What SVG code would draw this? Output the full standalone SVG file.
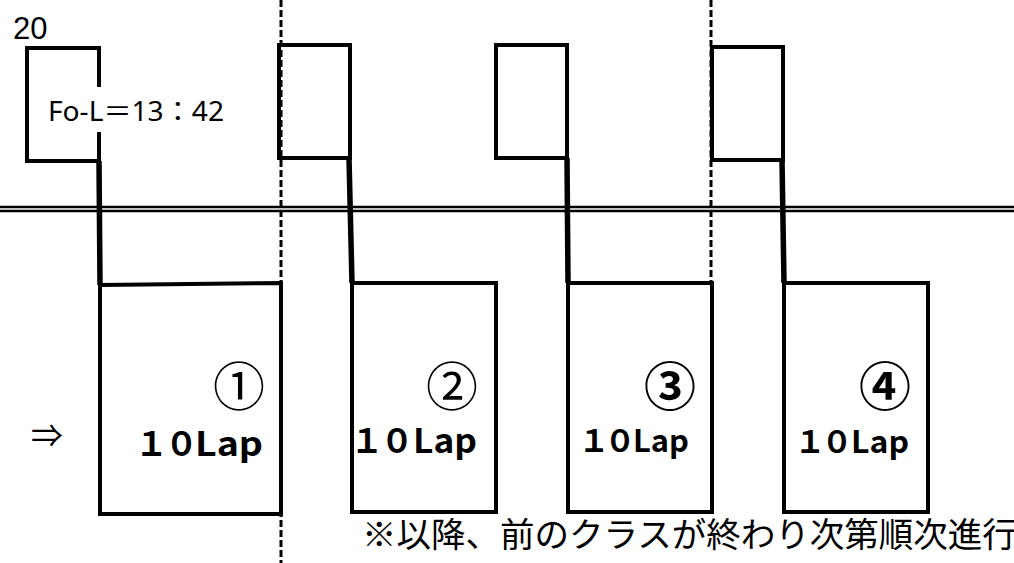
<svg xmlns="http://www.w3.org/2000/svg" width="1014" height="563" viewBox="0 0 1014 563">
<style>
.box{fill:none;stroke:#000;stroke-width:4;stroke-linejoin:miter}
.conn{stroke:#000;stroke-width:5.5;fill:none}
.dash{stroke:#000;stroke-width:3;stroke-dasharray:7 3;fill:none}
.rail{stroke:#000;stroke-width:2.6}
.circ{font-family:"Noto Sans CJK JP",sans-serif;font-size:52px;text-anchor:middle}
.lap{font-family:"Noto Sans CJK JP",sans-serif;font-weight:bold}
</style>
<rect width="1014" height="563" fill="#fff"/>
<g id="dividers">
<line class="rail" x1="0" y1="207" x2="1014" y2="207"/>
<line class="rail" x1="0" y1="211" x2="1014" y2="211"/>
<line class="dash" x1="281" y1="0" x2="281" y2="563"/>
<line class="dash" x1="711" y1="0" x2="711" y2="283"/>
</g>
<g id="connectors">
<line class="conn" x1="99" y1="161" x2="100" y2="285"/>
<line class="conn" x1="349" y1="158" x2="352" y2="283"/>
<line class="conn" x1="567" y1="158" x2="568" y2="283"/>
<line class="conn" x1="782" y1="160" x2="784" y2="283"/>
</g>
<g id="lane1">
<path class="box" d="M99 87 V48 H27 V161 H99 V132"/>
<polygon class="box" points="100,285 281,283 281,514 100,514"/>
<text x="13" y="39" font-family="Liberation Sans, sans-serif" font-size="31">20</text>
<text x="48" y="121" font-family="Noto Sans, Noto Sans CJK JP, sans-serif" font-size="27" textLength="176" lengthAdjust="spacingAndGlyphs">Fo-L＝13：42</text>
<text class="circ" x="239" y="406">①</text>
<text class="lap" font-size="33" x="135 165" y="456">１０<tspan x="195" textLength="68" lengthAdjust="spacingAndGlyphs">Lap</tspan></text>
</g>
<g id="lane2">
<rect class="box" x="279" y="45" width="71" height="113"/>
<rect class="box" x="352" y="283" width="144" height="229"/>
<text class="circ" x="452" y="406">②</text>
<text class="lap" font-size="33" x="350.5 380.5" y="453">１０<tspan x="413" textLength="64" lengthAdjust="spacingAndGlyphs">Lap</tspan></text>
</g>
<g id="lane3">
<rect class="box" x="496" y="45" width="71" height="113"/>
<rect class="box" x="568" y="283" width="144" height="229"/>
<text class="circ" x="670" y="406" font-weight="bold">③</text>
<text class="lap" font-size="31" x="578.5 604.5" y="452">１０<tspan x="633" textLength="56" lengthAdjust="spacingAndGlyphs">Lap</tspan></text>
</g>
<g id="lane4">
<rect class="box" x="712" y="47" width="71" height="113"/>
<rect class="box" x="784" y="283" width="144" height="229"/>
<text class="circ" x="885" y="406" font-weight="bold">④</text>
<text class="lap" font-size="31" x="794.5 821.5" y="453">１０<tspan x="851" textLength="58" lengthAdjust="spacingAndGlyphs">Lap</tspan></text>
</g>
<text x="31" y="447" font-family="Noto Sans CJK JP, sans-serif" font-size="32">⇒</text>
<text x="362" y="547" font-family="Noto Sans CJK JP, sans-serif" font-size="34.5">※以降、前のクラスが終わり次第順次進行</text>
</svg>
